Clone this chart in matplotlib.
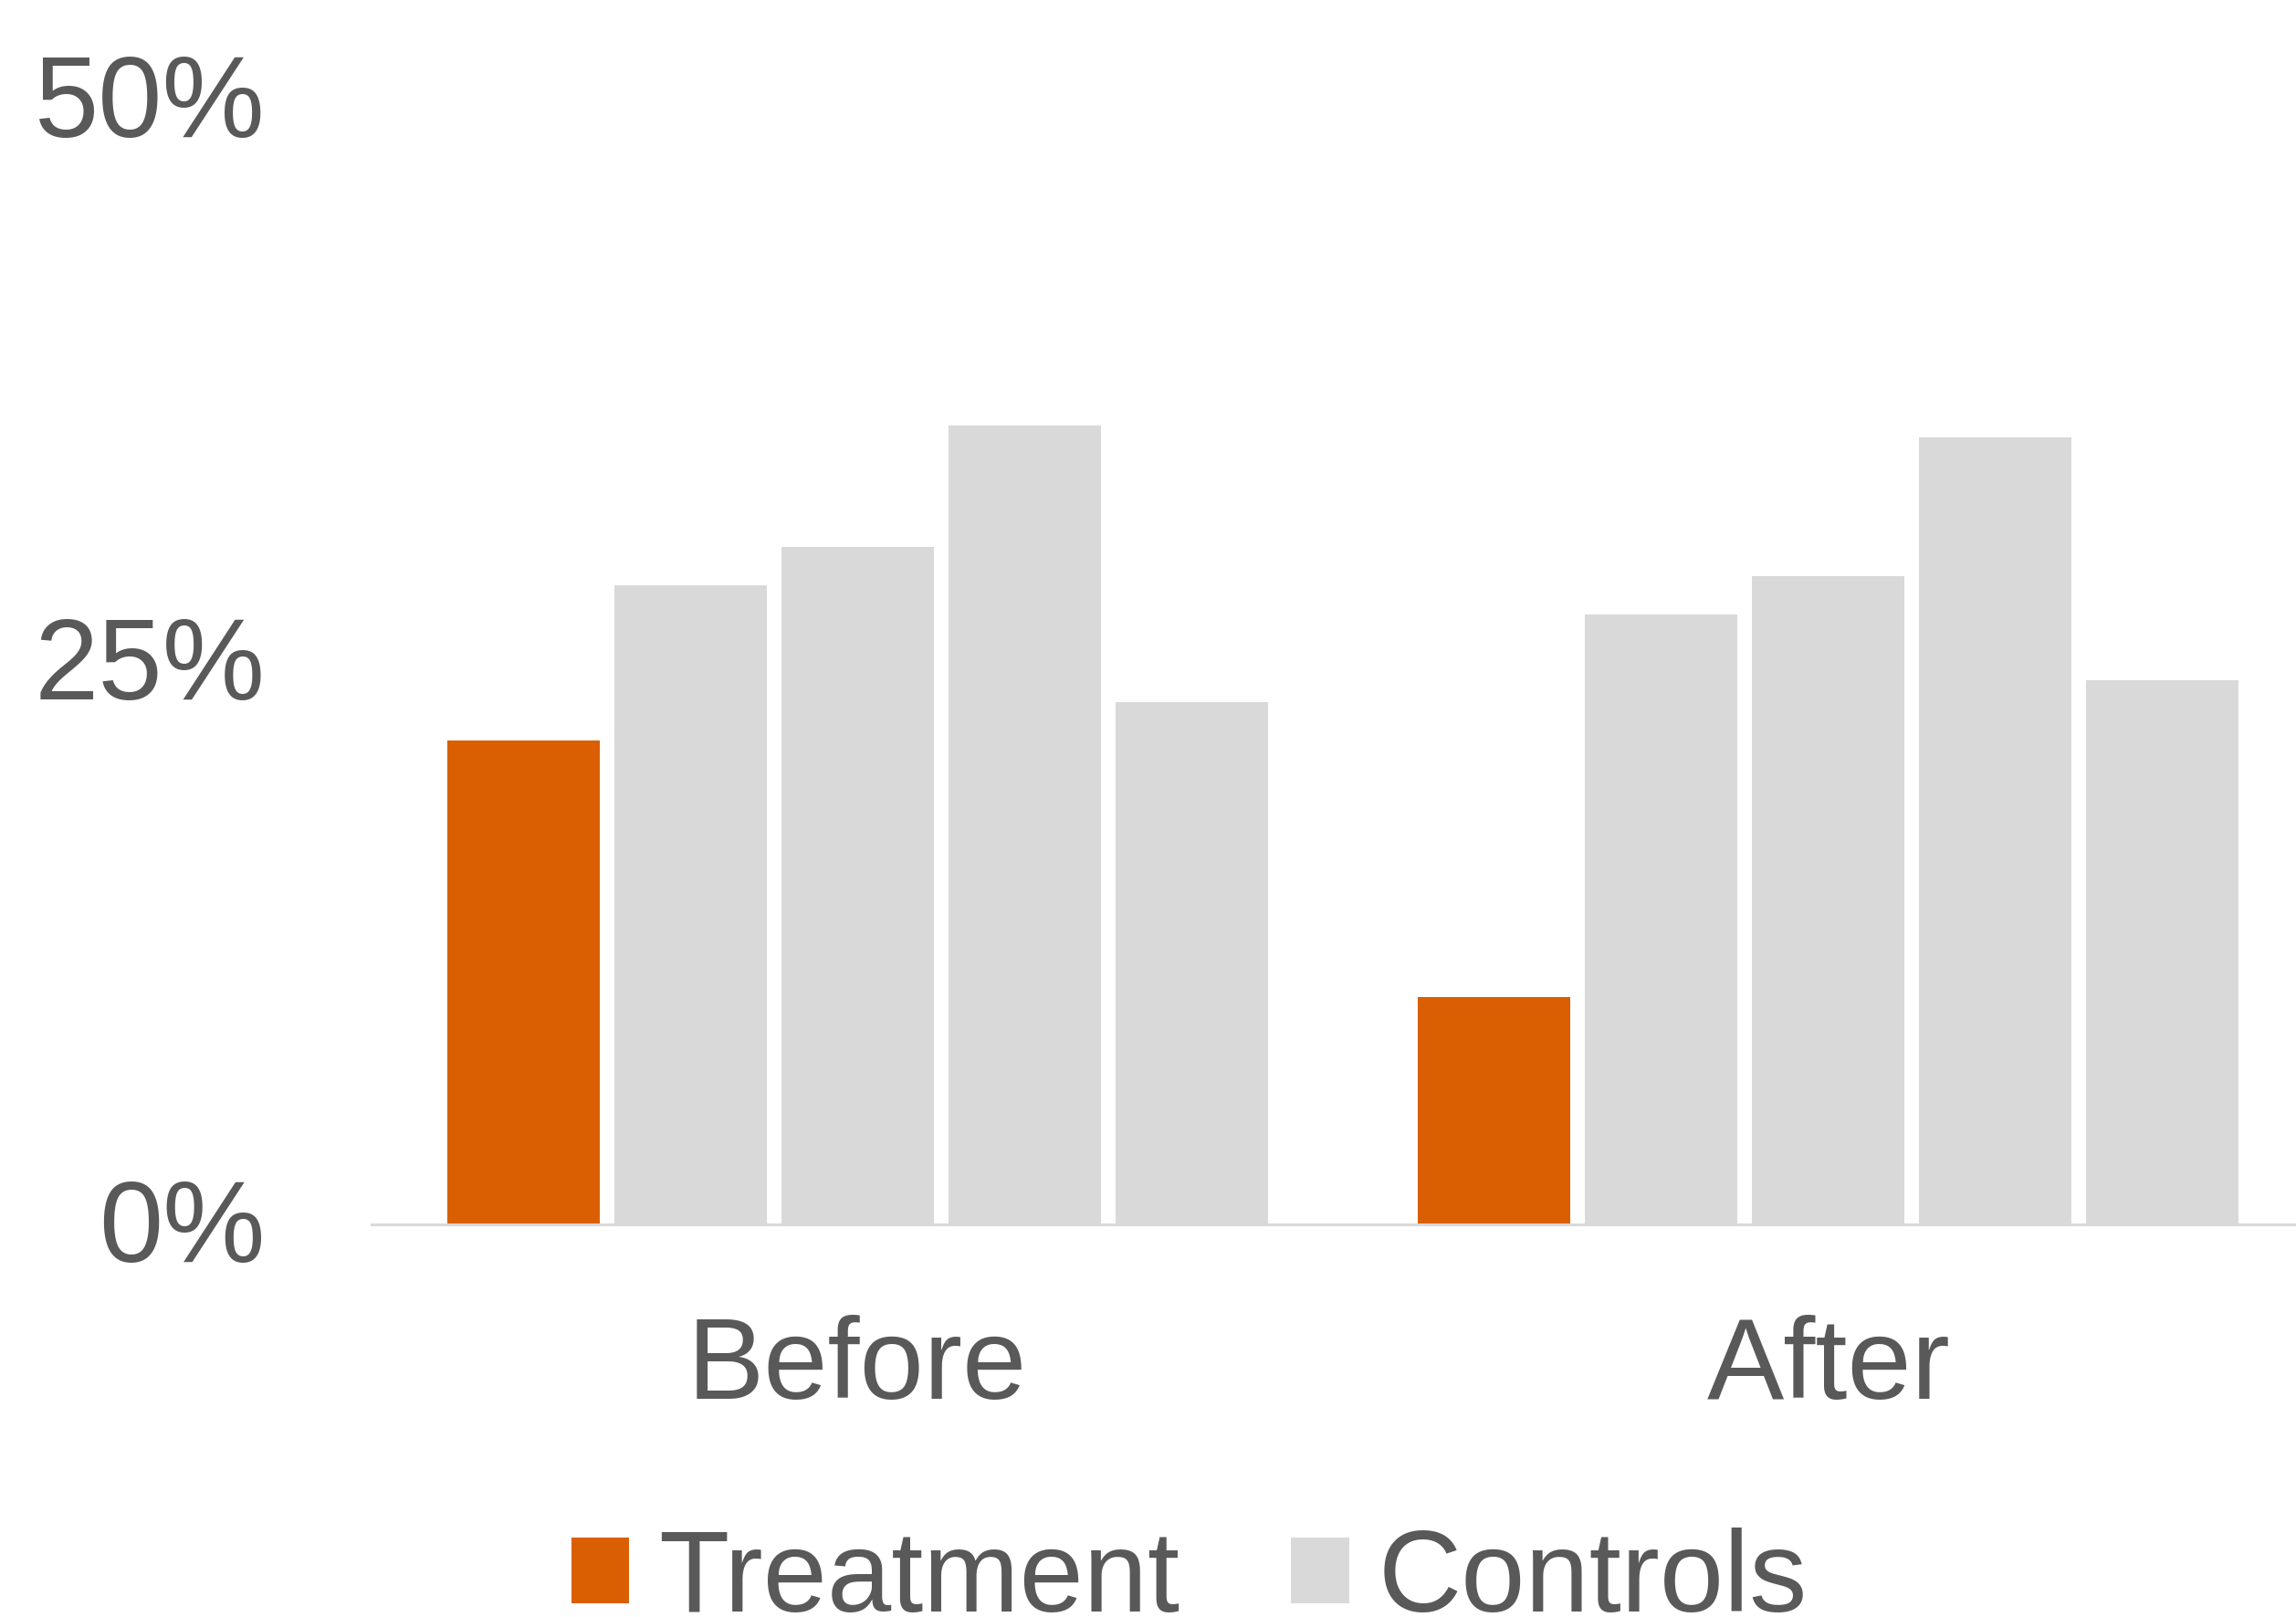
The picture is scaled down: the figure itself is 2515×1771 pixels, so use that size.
import numpy as np
import matplotlib
matplotlib.use("Agg")
import matplotlib.pyplot as plt
import matplotlib.transforms as mtransforms
from matplotlib.patches import Patch

# Share of cases (%) in each period
periods = ["Before", "After"]
treatment = [21.5, 10.1]
control_1 = [28.4, 27.1]
control_2 = [30.1, 28.8]
control_3 = [35.5, 35.0]
control_4 = [23.2, 24.2]
y_ticks = [0, 25, 50]
y_tick_labels = ["0%", "25%", "50%"]

ORANGE = "#D95F02"
GREY = "#D9D9D9"
TEXT = "#595959"
FS = 91

plt.rcParams["font.family"] = ["Liberation Sans", "DejaVu Sans"]

fig = plt.figure(figsize=(25.15, 17.71), dpi=100)
ax = fig.add_axes([0.1619, 0.2428, 0.846, 0.6957])

x = np.arange(len(periods))
pitch = 0.172
width = 0.157
series = [treatment, control_1, control_2, control_3, control_4]
colors = [ORANGE, GREY, GREY, GREY, GREY]
for i, (vals, c) in enumerate(zip(series, colors)):
    ax.bar(x + (i - 2) * pitch, vals, width=width, color=c, linewidth=0)

ax.set_xlim(-0.5, 1.5)
ax.set_ylim(0, 50)
ax.set_yticks(y_ticks)
ax.set_yticklabels(y_tick_labels)
ax.set_xticks(x)
ax.set_xticklabels(periods)

for side in ["top", "right", "left"]:
    ax.spines[side].set_visible(False)
ax.spines["bottom"].set_color(GREY)
ax.spines["bottom"].set_linewidth(2.2)

ax.tick_params(axis="y", length=0, pad=84, labelsize=FS, labelcolor=TEXT)
ax.tick_params(axis="x", length=0, pad=71, labelsize=FS, labelcolor=TEXT)

# nudge the percent labels up a little
lift = mtransforms.ScaledTranslation(0, 5 / 100, fig.dpi_scale_trans)
for lbl in ax.get_yticklabels():
    lbl.set_transform(lbl.get_transform() + lift)

handles = [Patch(facecolor=ORANGE, edgecolor="none", label="Treatment"),
           Patch(facecolor=GREY, edgecolor="none", label="Controls")]
fig.legend(handles=handles, loc="center", bbox_to_anchor=(0.518, 0.022),
           ncol=2, frameon=False, fontsize=FS, labelcolor=TEXT,
           handlelength=0.5, handleheight=0.5, handletextpad=0.25,
           columnspacing=0.97, borderpad=0, borderaxespad=0)

fig.savefig("out.png", dpi=100, facecolor="white")
